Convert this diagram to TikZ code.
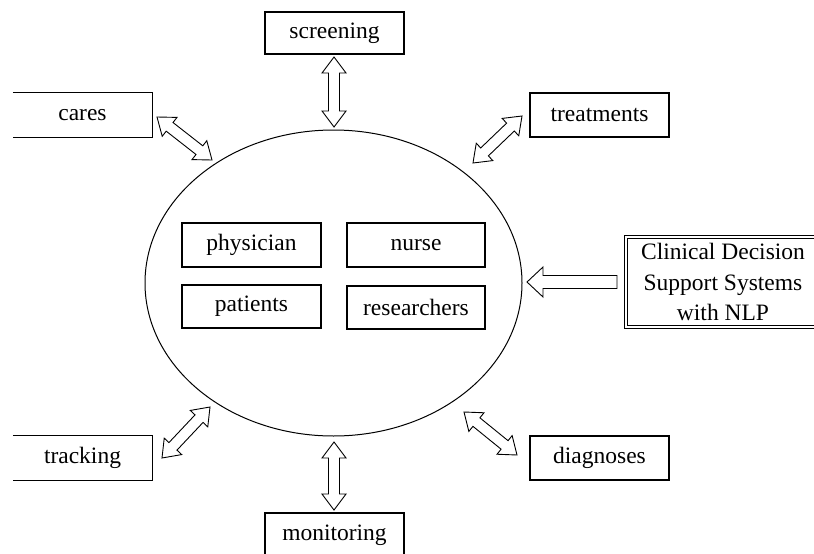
\documentclass[tikz,border=0pt]{standalone}
\usepackage{fontspec}
\setmainfont{Liberation Serif}
\usetikzlibrary{calc,shapes.geometric}
\newlength{\ahl}\newlength{\ahw}\newlength{\ash}
\newcommand{\dblarrow}[2]{%
  \draw[blockarrow]
    (#1)
    -- ($(#1)!\ahl!(#2)!\ahw!90:(#2)$)
    -- ($(#1)!\ahl!(#2)!\ash!90:(#2)$)
    -- ($(#2)!\ahl!(#1)!\ash!-90:(#1)$)
    -- ($(#2)!\ahl!(#1)!\ahw!-90:(#1)$)
    -- (#2)
    -- ($(#2)!\ahl!(#1)!\ahw!90:(#1)$)
    -- ($(#2)!\ahl!(#1)!\ash!90:(#1)$)
    -- ($(#1)!\ahl!(#2)!\ash!-90:(#2)$)
    -- ($(#1)!\ahl!(#2)!\ahw!-90:(#2)$)
    -- cycle;}
\newcommand{\sglarrow}[2]{%
  \draw[blockarrow]
    (#2)
    -- ($(#2)!\ahl!(#1)!\ahw!-90:(#1)$)
    -- ($(#2)!\ahl!(#1)!\ash!-90:(#1)$)
    -- ($(#1)!\ash!90:(#2)$)
    -- ($(#1)!\ash!-90:(#2)$)
    -- ($(#2)!\ahl!(#1)!\ash!90:(#1)$)
    -- ($(#2)!\ahl!(#1)!\ahw!90:(#1)$)
    -- cycle;}
\begin{document}
\begin{tikzpicture}[x=1pt,y=-1pt,
  every node/.style={font=\fontsize{23.5}{30.5}\selectfont, inner sep=0pt},
  box/.style={draw, line width=1.1pt, minimum width=139pt, minimum height=44pt},
  openbox/.style={minimum width=139pt, minimum height=44pt},
  blockarrow/.style={draw, fill=white, line width=0.9pt, line join=miter},
  hub/.style={ellipse, draw, line width=1pt, minimum width=377pt, minimum height=306pt}]
\clip (0,0) rectangle (814,554);
\fill[white] (0,0) rectangle (814,554);
\setlength{\ahl}{16pt}\setlength{\ahw}{12pt}\setlength{\ash}{5.5pt}

% central ellipse and inner boxes
\node[hub] (E) at (333.5,283) {};
\node[box] (phys) at (251.5,245) {physician};
\node[box, minimum width=138pt] (nurse) at (416,245) {nurse};
\node[box, minimum height=43pt] (pat) at (251.5,306.5) {patients};
\node[box, minimum width=138pt, minimum height=43pt] (res) at (416,307.5) {researchers};

% outer boxes
\node[box, minimum height=42pt] (scr) at (334.5,33) {screening};
\node[openbox] (cares) at (82.5,115) {cares};
\draw[line width=1.1pt] (cares.north west) -- (cares.north east) -- (cares.south east) -- (cares.south west);
\node[box] (treat) at (599.5,115) {treatments};
\node[openbox] (track) at (82.5,458) {tracking};
\draw[line width=1.1pt] (track.north west) -- (track.north east) -- (track.south east) -- (track.south west);
\node[box] (diag) at (599.5,458) {diagnoses};
\node[box] (mon) at (334.5,535) {monitoring};
\node[draw, double, double distance=2.4pt, line width=0.9pt, align=center,
      minimum width=194pt, minimum height=90pt] (cdss) at (723,282)
      {Clinical Decision\\Support Systems\\with NLP};

% arrow end points
\coordinate (scrA) at (334,57);   \coordinate (scrB) at (334,127);
\coordinate (caresA) at (157,117); \coordinate (caresB) at (212,160);
\coordinate (treatA) at (522,116); \coordinate (treatB) at (473,163);
\coordinate (trackA) at (162,458); \coordinate (trackB) at (210,407);
\coordinate (monA) at (334,442);   \coordinate (monB) at (334,510);
\coordinate (diagA) at (517,455);  \coordinate (diagB) at (464,412);
\coordinate (cdssA) at (617,282);  \coordinate (cdssB) at (527,282);

\dblarrow{scrA}{scrB}
\dblarrow{caresA}{caresB}
\dblarrow{treatA}{treatB}
\dblarrow{trackA}{trackB}
\dblarrow{monA}{monB}
\dblarrow{diagA}{diagB}
\setlength{\ahl}{16pt}\setlength{\ahw}{15pt}\setlength{\ash}{6.5pt}
\sglarrow{cdssA}{cdssB}
\end{tikzpicture}
\end{document}
